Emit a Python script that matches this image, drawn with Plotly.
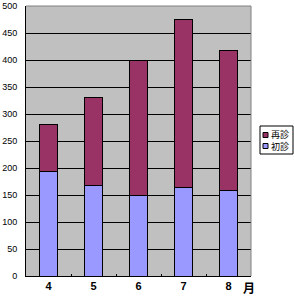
import plotly.graph_objects as go

months = ["4", "5", "6", "7", "8"]
first_visit = [193, 167, 150, 164, 158]    # 初診
revisit = [88, 163, 250, 311, 259]         # 再診
series_names = ["再診", "初診"]
series_colors = ["#993366", "#9999FF"]
y_ticks = [0, 50, 100, 150, 200, 250, 300, 350, 400, 450, 500]

fig = go.Figure()
fig.add_trace(go.Bar(x=months, y=first_visit, name=series_names[1],
                     marker=dict(color=series_colors[1], line=dict(color="black", width=1))))
fig.add_trace(go.Bar(x=months, y=revisit, name=series_names[0],
                     marker=dict(color=series_colors[0], line=dict(color="black", width=1))))

# plot area in pixels: x 26..251, y 6..276
def px_x(p):
    return (p - 26) / 225.0

def px_y(p):
    return (276 - p) / 270.0

shapes = [
    dict(type="line", xref="paper", yref="paper", x0=0, x1=1, y0=1, y1=1,
         line=dict(color="#808080", width=1)),
    dict(type="line", xref="paper", yref="paper", x0=1, x1=1, y0=0, y1=1,
         line=dict(color="#808080", width=1)),
    # legend box
    dict(type="rect", xref="paper", yref="paper", x0=px_x(260), x1=px_x(293),
         y0=px_y(154), y1=px_y(126), line=dict(color="black", width=1),
         fillcolor="white", layer="above"),
]
annotations = [dict(text="<b>月</b>", x=px_x(249), y=px_y(287), xref="paper", yref="paper",
                    xanchor="center", yanchor="middle", showarrow=False,
                    font=dict(family="Noto Sans CJK JP", size=12, color="black"))]
row_y = [135, 146]
for col, ry in zip(series_colors, row_y):
    shapes.append(dict(type="rect", xref="paper", yref="paper",
                       x0=px_x(263), x1=px_x(268), y0=px_y(ry + 2.5), y1=px_y(ry - 2.5),
                       fillcolor=col, line=dict(color="black", width=1), layer="above"))
annotations.append(dict(text="<br>".join(series_names), x=px_x(270),
                        y=px_y(sum(row_y) / 2.0), xref="paper", yref="paper",
                        xanchor="left", yanchor="middle", align="left", showarrow=False,
                        borderpad=0,
                        font=dict(family="Noto Sans CJK JP", size=9, color="black")))

fig.update_layout(
    width=294, height=300,
    margin=dict(l=26, r=43, t=6, b=24, autoexpand=False),
    barmode="stack", bargap=0.6,
    plot_bgcolor="#C0C0C0", paper_bgcolor="white",
    font=dict(family="Liberation Sans, Arial, sans-serif", size=9, color="black"),
    showlegend=False,
    xaxis=dict(type="category", showline=True, linecolor="black", linewidth=1,
               ticks="inside", ticklen=2, tickcolor="black", tickson="boundaries",
               tickvals=months, ticktext=["<b>%s</b>" % m for m in months],
               tickfont=dict(family="Liberation Sans, Arial", size=11, color="black"),
               showgrid=False, zeroline=False, automargin=False),
    yaxis=dict(range=[0, 500], tickvals=y_ticks, showline=True, linecolor="black",
               linewidth=1, ticks="", ticklabelstandoff=6,
               showgrid=True, gridcolor="#000000", gridwidth=1, zeroline=False,
               tickfont=dict(size=9), automargin=False),
    annotations=annotations,
    shapes=shapes,
)
fig.write_html("out.html")
